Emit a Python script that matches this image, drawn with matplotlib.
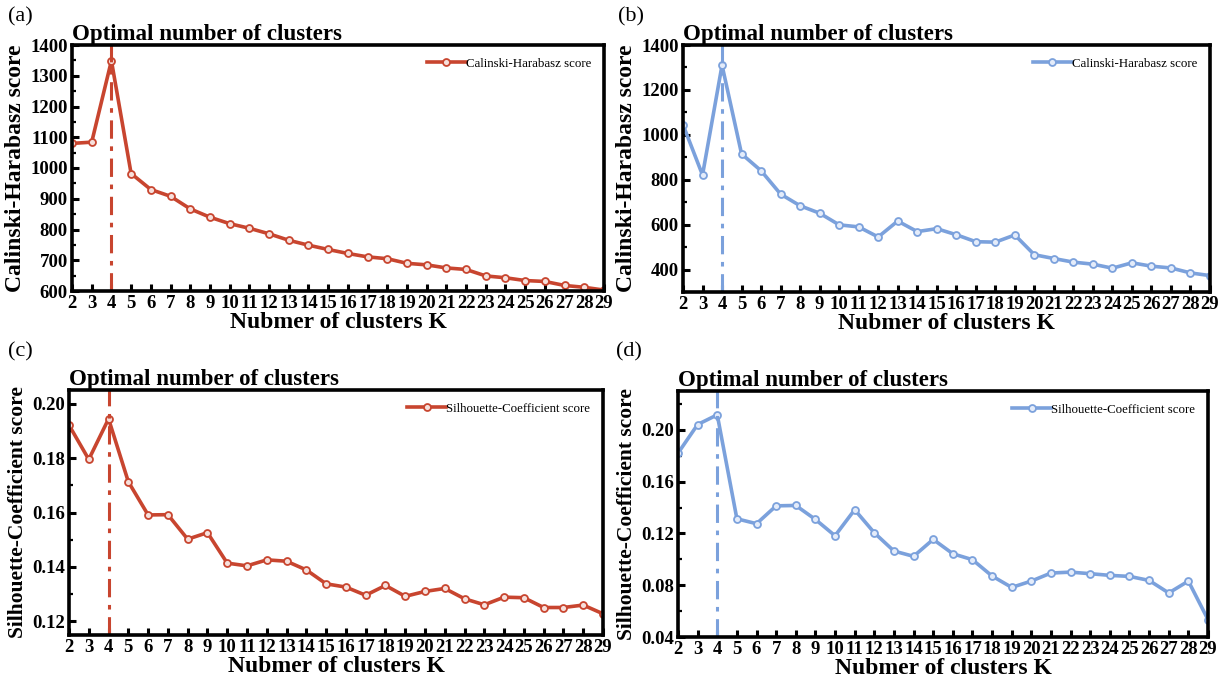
import matplotlib.pyplot as plt
from matplotlib.ticker import MultipleLocator, AutoMinorLocator

plt.rcParams['font.family'] = ['Liberation Serif', 'DejaVu Serif']
plt.rcParams['mathtext.fontset'] = 'stix'

k_values = list(range(2, 30))

# Calinski-Harabasz scores
ch_red = [1080, 1084, 1349, 982, 930, 908, 867, 840, 819, 804, 786, 765, 749, 735,
          722, 711, 705, 690, 685, 675, 670, 649, 643, 634, 631, 618, 612, 603]
ch_blue = [1045, 821, 1310, 915, 840, 736, 684, 651, 599, 590, 545, 616, 569, 582,
           555, 524, 522, 554, 466, 449, 433, 424, 406, 430, 415, 407, 385, 373]

# Silhouette-Coefficient scores
sc_red = [0.1921, 0.1795, 0.1944, 0.1713, 0.1591, 0.1592, 0.1502, 0.1526, 0.1414,
          0.1404, 0.1426, 0.1421, 0.1389, 0.1338, 0.1326, 0.1296, 0.1332, 0.1292,
          0.1310, 0.1321, 0.1283, 0.1261, 0.1289, 0.1287, 0.1251, 0.1251, 0.1260, 0.1228]
sc_blue = [0.182, 0.2041, 0.2116, 0.1313, 0.1275, 0.1413, 0.1416, 0.1308, 0.1182,
           0.1383, 0.1205, 0.1064, 0.1023, 0.1154, 0.1043, 0.0997, 0.0871, 0.0783,
           0.0832, 0.0894, 0.0901, 0.0889, 0.0876, 0.0868, 0.0837, 0.0740, 0.0832, 0.0534]

best_k = 4
red = '#c8452f'
blue = '#7ba1dc'

W, H = 1230, 687
fig = plt.figure(figsize=(12.3, 6.87), dpi=100)


def px_axes(left, right, top, bottom):
    return fig.add_axes([left / W, 1 - bottom / H, (right - left) / W, (bottom - top) / H])


panels = [
    ('(a)', px_axes(72, 604, 45, 291), ch_red, red, 'Calinski-Harabasz score',
     17, (600, 1400), 100, (8, 17)),
    ('(b)', px_axes(683, 1210, 45, 292), ch_blue, blue, 'Calinski-Harabasz score',
     17, (300, 1400), 200, (618, 17)),
    ('(c)', px_axes(69, 603, 390, 635), sc_red, red, 'Silhouette-Coefficient score',
     15.5, (0.115, 0.205), 0.02, (8, 352)),
    ('(d)', px_axes(678, 1208, 391, 637), sc_blue, blue, 'Silhouette-Coefficient score',
     15.5, (0.04, 0.23), 0.04, (616, 352)),
]

for tag, ax, scores, color, name, ysize, ylim, ystep, tag_pos in panels:
    ax.plot(k_values, scores, color=color, lw=2.6, marker='o', ms=5,
            mfc='#f6e0dc' if color == red else '#e4ecfa', mec=color, mew=1.3,
            label=name)
    ax.axvline(best_k, color=color, lw=2.2, ls='-.', dashes=(6, 2.5, 1.5, 2.5))

    ax.set_xlim(2, 29)
    ax.set_ylim(*ylim)
    ax.set_xticks(k_values)
    ax.yaxis.set_major_locator(MultipleLocator(ystep))
    ax.yaxis.set_minor_locator(AutoMinorLocator(2))
    if ystep < 1:
        ax.yaxis.set_major_formatter(plt.FormatStrFormatter('%.2f'))

    ax.tick_params(axis='both', which='major', direction='in', length=5, width=2.2,
                   labelsize=13.5, pad=3)
    ax.tick_params(axis='y', which='minor', direction='in', length=3, width=1.6)
    for lbl in ax.get_xticklabels() + ax.get_yticklabels():
        lbl.set_fontweight('bold')
    for sp in ax.spines.values():
        sp.set_linewidth(2.6)

    ax.set_title('Optimal number of clusters', loc='left', fontsize=16.5,
                 fontweight='bold', pad=3)
    ax.set_xlabel('Nubmer of clusters K', fontsize=17, fontweight='bold', labelpad=0)
    ax.set_ylabel(name, fontsize=ysize, fontweight='bold', labelpad=3)
    ax.legend(loc='upper right', frameon=False, fontsize=9.3, handlelength=3.0,
              handletextpad=0.0, borderaxespad=0.6)

    fig.text(tag_pos[0] / W, 1 - tag_pos[1] / H, tag, fontsize=16,
             ha='left', va='center')

fig.savefig('out.png', dpi=100)
